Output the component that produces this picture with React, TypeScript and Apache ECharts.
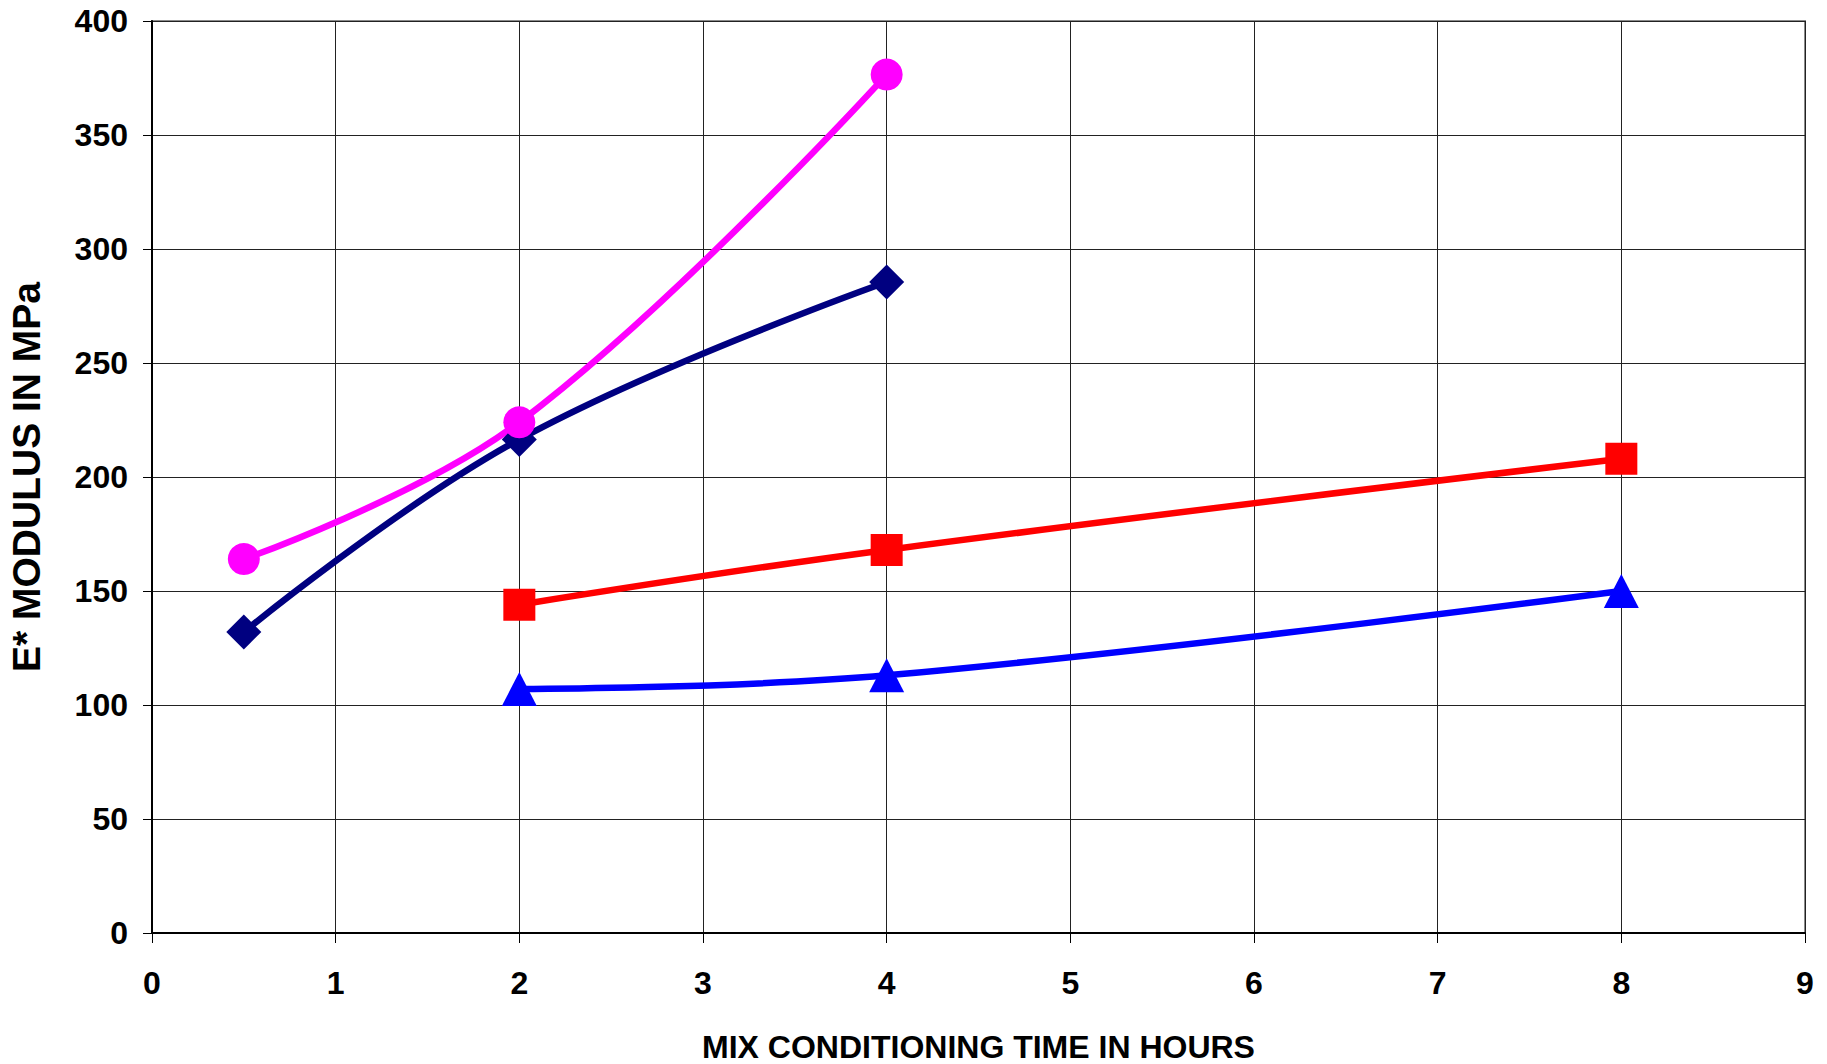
import React, { useEffect, useRef } from "react";
import * as echarts from "echarts";

const navyX = [0.5, 2, 4];
const navyY = [132, 216.5, 285.5];
const redX = [2, 4, 8];
const redY = [144, 168, 208];
const blueX = [2, 4, 8];
const blueY = [107, 113, 150];
const pinkX = [0.5, 2, 4];
const pinkY = [164, 224, 376.5];

const xTitle = "MIX CONDITIONING TIME IN HOURS";
const yTitle = "E* MODULUS IN MPa";

const pairs = (xs: number[], ys: number[]) => xs.map((x, i) => [x, ys[i]]);

export default function App() {
  const ref = useRef<HTMLDivElement>(null);
  useEffect(() => {
    if (!ref.current) return;
    const chart = echarts.init(ref.current, null, { renderer: "svg" });
    const font = "Liberation Sans, Arial, sans-serif";
    const mk = (name: string, xs: number[], ys: number[], color: string, symbol: string, size: any) => ({
      name,
      type: "line",
      data: pairs(xs, ys),
      smooth: 0.4,
      symbol,
      symbolSize: size,
      showSymbol: true,
      lineStyle: { color, width: 6.5 },
      itemStyle: { color, borderWidth: 0 },
      z: 3,
    });
    chart.setOption({
      animation: false,
      backgroundColor: "#ffffff",
      grid: {
        left: 152,
        top: 21,
        right: 22,
        bottom: 131,
        show: true,
        borderColor: "#8a8a8a",
        borderWidth: 2,
        containLabel: false,
        outerBoundsMode: "none",
      },
      xAxis: {
        type: "value",
        min: 0,
        max: 9,
        interval: 1,
        name: xTitle,
        nameLocation: "middle",
        nameGap: 98,
        nameTextStyle: { fontFamily: font, fontWeight: "bold", fontSize: 32, color: "#000" },
        axisLine: { show: true, onZero: false, lineStyle: { color: "#000", width: 2 } },
        axisTick: { show: true, length: 10, lineStyle: { color: "#000", width: 1 } },
        axisLabel: { fontFamily: font, fontWeight: "bold", fontSize: 32, color: "#000", margin: 34 },
        splitLine: { show: true, lineStyle: { color: "#222", width: 1 } },
      },
      yAxis: {
        type: "value",
        min: 0,
        max: 400,
        interval: 50,
        name: yTitle,
        nameLocation: "middle",
        nameRotate: 90,
        nameGap: 106,
        nameTextStyle: { fontFamily: font, fontWeight: "bold", fontSize: 39, color: "#000" },
        axisLine: { show: true, lineStyle: { color: "#000", width: 2 } },
        axisTick: { show: true, length: 9, lineStyle: { color: "#000", width: 1 } },
        axisLabel: { fontFamily: font, fontWeight: "bold", fontSize: 32, color: "#000", margin: 24 },
        splitLine: { show: true, lineStyle: { color: "#222", width: 1 } },
      },
      series: [
        mk("navy", navyX, navyY, "#000080", "diamond", 35),
        mk("red", redX, redY, "#FF0000", "rect", 32),
        mk("blue", blueX, blueY, "#0000FF", "triangle", [35, 34]),
        mk("pink", pinkX, pinkY, "#FF00FF", "circle", 32),
      ],
    });
    return () => chart.dispose();
  }, []);
  return (
    <div
      ref={ref}
      style={{ position: "absolute", left: 0, top: 0, width: 1827, height: 1064, background: "#fff" }}
    />
  );
}
